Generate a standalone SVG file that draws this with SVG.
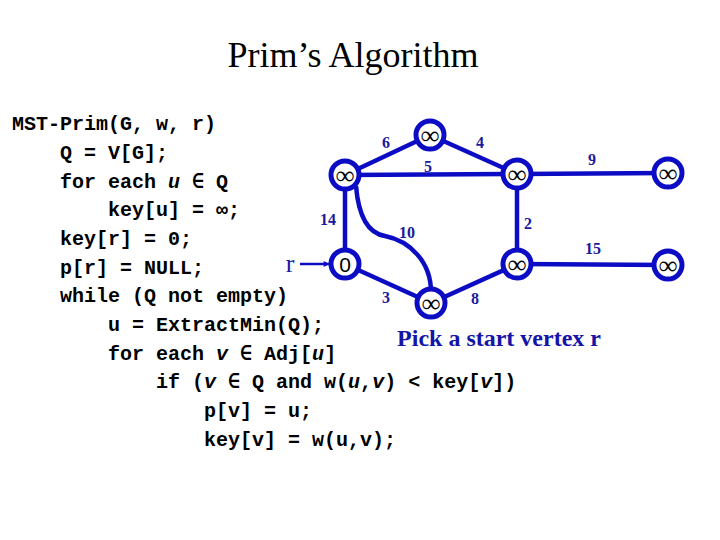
<svg xmlns="http://www.w3.org/2000/svg" width="720" height="540" viewBox="0 0 720 540">
<defs>
<style>
.code{font-family:"Liberation Mono","DejaVu Sans Mono",monospace;font-size:20px;font-weight:bold;fill:#000}
.it{font-style:italic}
.edge{stroke:#0c0cc4;stroke-width:4.5;fill:none}
.lbl{font-family:"Liberation Serif","Times New Roman",serif;font-size:16px;font-weight:bold;fill:#1a1a9c;text-anchor:middle}
.node circle{fill:#fff;stroke:#0c0cc4;stroke-width:5}
.node text{font-family:"Liberation Serif",serif;font-size:26px;font-weight:bold;fill:#000;text-anchor:middle}
</style>
<marker id="ah" viewBox="0 0 10 10" refX="9" refY="5" markerWidth="8" markerHeight="6" orient="auto" markerUnits="userSpaceOnUse">
<path d="M0,0 L10,5 L0,10 z" fill="#0c0cc4"/>
</marker>
</defs>
<rect width="720" height="540" fill="#fff"/>
<text x="353" y="67" font-family="Liberation Serif,serif" font-size="36" text-anchor="middle">Prim’s Algorithm</text>
<g id="code" class="code">
<text x="12" y="130">MST-Prim(G, w, r)</text>
<text x="60" y="159">Q = V[G];</text>
<text x="60" y="188" xml:space="preserve">for each <tspan class="it">u</tspan> ∈ Q</text>
<text x="108" y="216">key[u] = ∞;</text>
<text x="60" y="245">key[r] = 0;</text>
<text x="60" y="274">p[r] = NULL;</text>
<text x="60" y="302">while (Q not empty)</text>
<text x="108" y="331">u = ExtractMin(Q);</text>
<text x="108" y="360" xml:space="preserve">for each <tspan class="it">v</tspan> ∈ Adj[<tspan class="it">u</tspan>]</text>
<text x="156" y="388" xml:space="preserve">if (<tspan class="it">v</tspan> ∈ Q and w(<tspan class="it">u</tspan>,<tspan class="it">v</tspan>) &lt; key[<tspan class="it">v</tspan>])</text>
<text x="204" y="417">p[v] = u;</text>
<text x="204" y="446">key[v] = w(u,v);</text>
</g>
<g id="connectors">
<line class="edge" x1="345" y1="175" x2="430" y2="135"/>
<line class="edge" x1="430" y1="135" x2="517" y2="174"/>
<line class="edge" x1="345" y1="175" x2="517" y2="174"/>
<line class="edge" x1="517" y1="174" x2="668" y2="173"/>
<line class="edge" x1="345" y1="175" x2="345" y2="264"/>
<line class="edge" x1="517" y1="174" x2="517" y2="264"/>
<line class="edge" x1="517" y1="264" x2="668" y2="265"/>
<line class="edge" x1="345" y1="264" x2="431" y2="303"/>
<line class="edge" x1="431" y1="303" x2="517" y2="264"/>
<path class="edge" d="M356 186 C359 222 372 234 385 236 C410 241 431 262 431 292"/>
<line x1="300" y1="264" x2="329" y2="264" stroke="#0c0cc4" stroke-width="2.5" marker-end="url(#ah)"/>
</g>
<g id="labels">
<text class="lbl" x="386" y="148">6</text>
<text class="lbl" x="480" y="148">4</text>
<text class="lbl" x="428" y="172">5</text>
<text class="lbl" x="592" y="165">9</text>
<text class="lbl" x="328" y="225">14</text>
<text class="lbl" x="407" y="238">10</text>
<text class="lbl" x="528" y="229">2</text>
<text class="lbl" x="593" y="254">15</text>
<text class="lbl" x="386" y="303">3</text>
<text class="lbl" x="475" y="304">8</text>
</g>
<g id="n1" class="node"><circle cx="430" cy="135" r="14"/><text x="430" y="144">∞</text></g>
<g id="n2" class="node"><circle cx="345" cy="175" r="14"/><text x="345" y="184">∞</text></g>
<g id="n3" class="node"><circle cx="517" cy="174" r="14"/><text x="517" y="183">∞</text></g>
<g id="n4" class="node"><circle cx="668" cy="173" r="14"/><text x="668" y="182">∞</text></g>
<g id="n5" class="node"><circle cx="345" cy="264" r="14"/><text x="345" y="272" style="font-family:'Liberation Sans',sans-serif;font-size:21px;font-weight:normal">0</text></g>
<g id="n6" class="node"><circle cx="431" cy="303" r="14"/><text x="431" y="312">∞</text></g>
<g id="n7" class="node"><circle cx="517" cy="264" r="14"/><text x="517" y="273">∞</text></g>
<g id="n8" class="node"><circle cx="668" cy="265" r="14"/><text x="668" y="274">∞</text></g>
<text x="290" y="272" font-family="Liberation Serif,serif" font-size="26" fill="#1a1a9c" text-anchor="middle">r</text>
<text x="499" y="346" font-family="Liberation Serif,serif" font-size="24" font-weight="bold" fill="#1414a8" text-anchor="middle">Pick a start vertex r</text>
</svg>
